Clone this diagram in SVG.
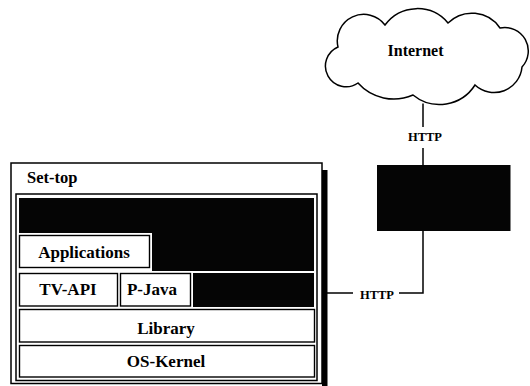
<svg xmlns="http://www.w3.org/2000/svg" width="530" height="386" viewBox="0 0 530 386">
  <style>
    .frame { fill: #fff; stroke: #000; stroke-width: 1.5; }
    .box { fill: #fff; stroke: #000; stroke-width: 1.4; }
    .solid { fill: #050505; stroke: none; }
    .wire { fill: none; stroke: #000; stroke-width: 1.5; }
    .lbl { font-family: "Liberation Serif", "Times New Roman", serif; font-weight: bold; fill: #000; text-anchor: middle; }
    .big { font-size: 17px; }
    .small { font-size: 12.5px; }
  </style>

  <rect width="530" height="386" fill="#fff"/>

  <!-- Set-top unit: outer casing with drop shadow and inner frame -->
  <g id="settop">
    <rect x="322" y="170" width="5.5" height="220" fill="#000"/>
    <rect class="frame" x="11" y="163" width="311" height="220.5"/>
    <rect class="frame" x="16" y="194" width="301" height="186.5" stroke-width="1.2"/>
    <text class="lbl" x="27" y="183" font-size="16.5" style="text-anchor:start">Set-top</text>
  </g>

  <!-- Screen area behind the applications -->
  <g id="screen">
    <path class="solid" d="M19,198 H314 V271 H152 V233 H19 Z"/>
  </g>

  <g id="applications">
    <rect class="box" x="19.5" y="235.5" width="130" height="32"/>
    <text class="lbl big" x="84" y="258">Applications</text>
  </g>

  <g id="tv-api">
    <rect class="box" x="19.5" y="273.5" width="98" height="32.5"/>
    <text class="lbl big" x="68" y="295">TV-API</text>
  </g>

  <g id="p-java">
    <rect class="box" x="120.5" y="273.5" width="70" height="32.5"/>
    <text class="lbl big" x="152" y="295">P-Java</text>
  </g>

  <g id="video">
    <rect class="solid" x="193" y="273" width="121" height="34"/>
  </g>

  <g id="library">
    <rect class="box" x="19.5" y="309.5" width="295" height="32.5"/>
    <text class="lbl big" x="166" y="334">Library</text>
  </g>

  <g id="os-kernel">
    <rect class="box" x="19.5" y="345.5" width="295" height="31.5"/>
    <text class="lbl big" x="166" y="367">OS-Kernel</text>
  </g>

  <!-- Internet cloud -->
  <g id="internet">
    <path class="frame" d="M338,47
      A26.5,26.5 0 0 1 385,25
      A40,40 0 0 1 448,23
      A34,34 0 0 1 500,28
      A23.5,23.5 0 0 1 522,67
      A28,28 0 0 1 475,85
      A42,42 0 0 1 413,95
      A48,48 0 0 1 358,83
      A20.7,20.7 0 1 1 338,47 Z"/>
    <text class="lbl" x="415.5" y="56" font-size="16">Internet</text>
  </g>

  <!-- Server -->
  <g id="server">
    <rect class="solid" x="377" y="165" width="133.5" height="66"/>
  </g>

  <!-- Connections -->
  <g id="connectors">
    <line class="wire" x1="423" y1="103.5" x2="423" y2="127"/>
    <line class="wire" x1="423" y1="148" x2="423" y2="165.5"/>
    <text class="lbl small" x="425" y="141">HTTP</text>
    <line class="wire" x1="327" y1="293" x2="353" y2="293"/>
    <text class="lbl small" x="377" y="299">HTTP</text>
    <polyline class="wire" points="399,293 423,293 423,230.5"/>
  </g>
</svg>
